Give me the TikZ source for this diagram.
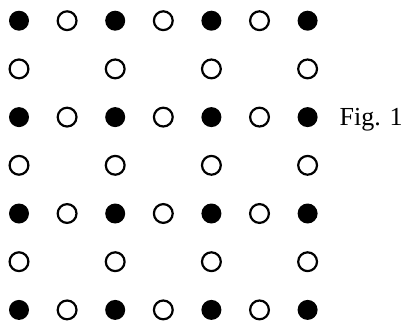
\documentclass[tikz,border=0pt]{standalone}
\usepackage{fontspec}
\setmainfont{Liberation Serif}
\usepackage{xcolor}
\definecolor{dot-black}{HTML}{000000}

\begin{document}
\begin{tikzpicture}[x=1pt, y=-1pt,
          full/.style={circle, fill=dot-black, inner sep=0pt,
            minimum size=20pt},
          hollow/.style={circle, draw=dot-black, line width=2.2pt,
            fill=white, inner sep=0pt, minimum size=18.8pt}]
      \useasboundingbox (0,0) rectangle (404,322);
      % rows with all seven points
      \foreach \r in {0,2,4,6} {
        \foreach \c in {0,...,6} {
          \pgfmathtruncatemacro{\odd}{mod(\c,2)}
          \ifnum\odd=0
            \node[full] (d-\r-\c) at (19+48.1*\c, 20.7+48.2*\r) {};
          \else
            \node[hollow] (d-\r-\c) at (19+48.1*\c, 20.7+48.2*\r) {};
          \fi
        }
      }
      % rows in between, only under the filled points
      \foreach \r in {1,3,5} {
        \foreach \c in {0,2,4,6} {
          \node[hollow] (d-\r-\c) at (19+48.1*\c, 20.7+48.2*\r) {};
        }
      }
      \node[anchor=base west, inner sep=0pt,
            font=\fontsize{26}{30}\selectfont]
            (fig) at (339.5,125.5) {Fig. 1};
    \end{tikzpicture}
\end{document}
